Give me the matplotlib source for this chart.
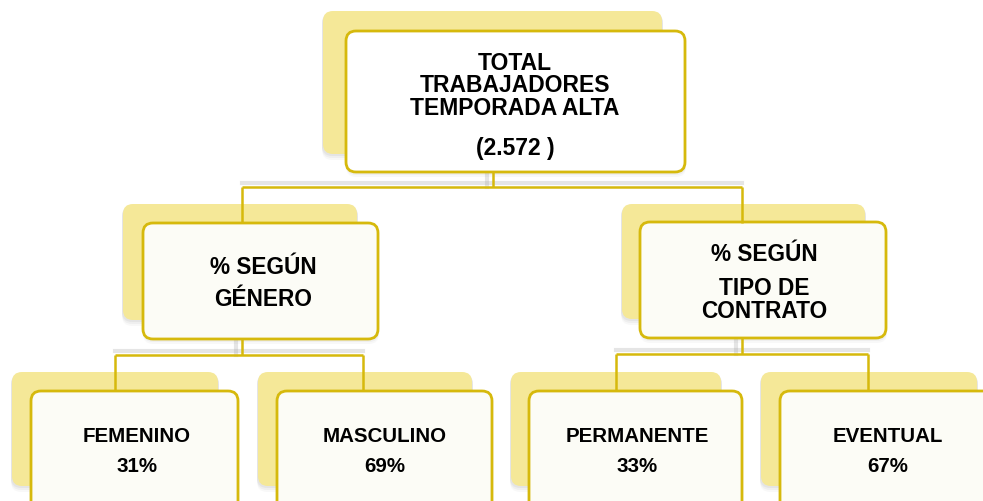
import matplotlib
matplotlib.use("Agg")
import matplotlib.pyplot as plt
from matplotlib.patches import FancyBboxPatch

# ---- content ----
root_lines = ["TOTAL", "TRABAJADORES", "TEMPORADA ALTA", "(2.572 )"]
group_lines = [["% SEGÚN", "GÉNERO"], ["% SEGÚN", "TIPO DE", "CONTRATO"]]
leaf_names = ["FEMENINO", "MASCULINO", "PERMANENTE", "EVENTUAL"]
leaf_values = [31, 69, 33, 67]

# ---- layout (pixels) ----
W, H = 983, 502
BACK = "#F5E898"
EDGE = "#D6B90C"
FRONT = "#FCFCF6"
font = ["Liberation Sans", "DejaVu Sans"]

fig = plt.figure(figsize=(W / 100, H / 100), dpi=100)
ax = fig.add_axes([0, 0, 1, 1])
ax.set_xlim(0, W)
ax.set_ylim(H, 0)
ax.axis("off")


def rbox(x0, y0, x1, y1, fc, ec, lw, r=10, z=2, alpha=1.0):
    p = FancyBboxPatch((x0, y0), x1 - x0, y1 - y0,
                       boxstyle=f"round,pad=0,rounding_size={r}",
                       fc=fc, ec=ec, lw=lw, zorder=z, alpha=alpha)
    ax.add_patch(p)


def node(back, front, front_fc=FRONT):
    bx0, by0, bx1, by1 = back
    fx0, fy0, fx1, fy1 = front
    for k, a in [(6, 0.05), (4, 0.07), (2, 0.09)]:
        rbox(bx0 - 1, by0 + 2, bx1 + 1, by1 + k, "#808080", "none", 0, z=1, alpha=a)
    rbox(bx0, by0, bx1, by1, BACK, "none", 0, z=2)
    for k, a in [(5, 0.05), (3, 0.07)]:
        rbox(fx0, fy0 + 2, fx1 + 1, fy1 + k, "#808080", "none", 0, z=3, alpha=a)
    rbox(fx0, fy0, fx1, fy1, front_fc, EDGE, 2.0, z=4)


def connector(xtop, ytop, ymid, xs, ybot):
    kw = dict(color=EDGE, lw=1.8, zorder=5, solid_capstyle="butt")
    sh = dict(color="#9a9a9a", lw=3, alpha=0.25, zorder=0)
    ax.plot([xtop - 6, xtop - 6], [ytop, ymid], **sh)
    ax.plot([min(xs), max(xs)], [ymid - 4, ymid - 4], **sh)
    ax.plot([xtop, xtop], [ytop, ymid], **kw)
    ax.plot([min(xs), max(xs)], [ymid, ymid], **kw)
    for x in xs:
        ax.plot([x, x], [ymid, ybot], **kw)


def caps_text(x, yc, s, size):
    # place text so that the capital letters are centred on yc (pixels)
    cap = 0.716 * size * 100 / 72
    ax.text(x, yc + cap / 2, s, ha="center", va="baseline", fontsize=size,
            fontweight="bold", family=font, zorder=6)


# root
node((323, 12, 662, 155), (346, 32, 685, 173), front_fc="white")
for s, y in zip(root_lines, [62, 84, 107, 147]):
    caps_text(515, y, s, 16.5)

connector(493, 173, 188, [242, 742], 224)

# groups
group_back = [(123, 205, 357, 321), (622, 205, 865, 320)]
group_front = [(143, 224, 378, 340), (640, 223, 886, 339)]
group_cx = [263, 764]
group_ys = [[266, 298], [253, 287, 310]]
for gb, gf, cx, ys, lines in zip(group_back, group_front, group_cx, group_ys, group_lines):
    node(gb, gf)
    for s, y in zip(lines, ys):
        caps_text(cx, y, s, 16.3)

connector(242, 340, 356, [115, 363], 392)
connector(742, 339, 355, [616, 868], 392)

# leaves
leaf_back = [(12, 373, 218, 487), (258, 373, 472, 487), (511, 373, 721, 487), (761, 373, 977, 487)]
leaf_front = [(31, 392, 238, 520), (277, 392, 492, 520), (529, 392, 742, 520), (780, 392, 1000, 520)]
leaf_cx = [137, 385, 637, 888]
for lb, lf, cx, nm, v in zip(leaf_back, leaf_front, leaf_cx, leaf_names, leaf_values):
    node(lb, lf)
    caps_text(cx, 435, nm, 14.8)
    caps_text(cx, 465, f"{v}%", 14.8)

fig.savefig("out.png", dpi=100)
